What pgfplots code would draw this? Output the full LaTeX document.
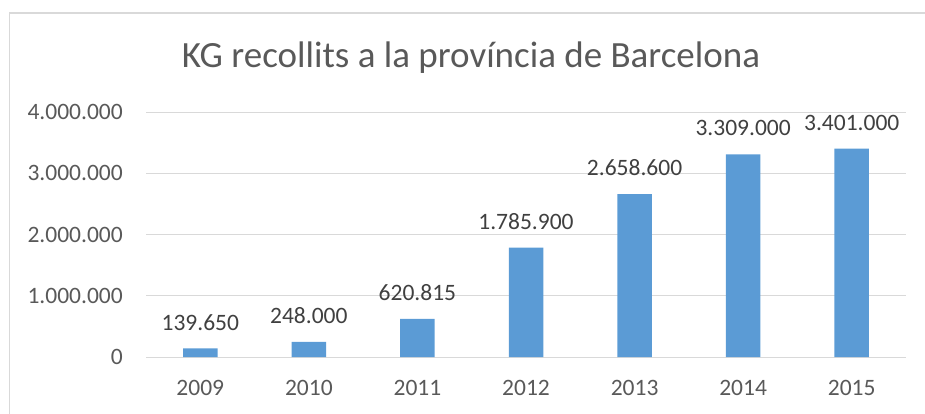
\documentclass[border=0pt]{standalone}
\usepackage{pgfplots}
\pgfplotsset{compat=1.18}
\usepackage{fontspec}
\setmainfont{Carlito}
\definecolor{barblue}{HTML}{5B9BD5}
\definecolor{gridgray}{HTML}{D9D9D9}
\definecolor{textgray}{HTML}{595959}
\definecolor{labelgray}{HTML}{404040}
\begin{document}
\begin{tikzpicture}
\path[use as bounding box, clip] (0,0) rectangle (925pt,-413pt);
\draw[gridgray, line width=1.2pt] (9.5pt,-13pt) rectangle (960pt,-440pt);
\node[anchor=base, text=textgray, inner sep=0pt, font=\fontsize{37}{44}\selectfont] at (471pt,-67pt) {KG recollits a la província de Barcelona};
\begin{axis}[
  at={(146pt,-357pt)}, anchor=south west,
  scale only axis, width=760pt, height=245pt,
  xmin=-0.5, xmax=6.5, ymin=0, ymax=4000000,
  xtick=data,
  xticklabels={2009,2010,2011,2012,2013,2014,2015},
  ytick={0,1000000,2000000,3000000,4000000},
  scaled y ticks=false,
  /pgf/number format/assume math mode=true,
  yticklabel={\pgfmathprintnumber[fixed,precision=0,1000 sep={.}]{\tick}},
  axis line style={draw=none},
  tick style={draw=none},
  major tick length=0pt,
  ymajorgrids,
  grid style={gridgray, line width=1pt},
  ticklabel style={text=textgray, font=\fontsize{23.5}{28}\selectfont, inner sep=0pt},
  yticklabel style={anchor=east, xshift=-23pt},
  xticklabel style={anchor=north, yshift=-23pt},
  ybar, bar width=34.5pt,
  nodes near coords={\pgfmathprintnumber[fixed,precision=0,1000 sep={.},assume math mode=true]{\pgfplotspointmeta}},
  every node near coord/.append style={anchor=south, inner sep=0pt, yshift=18pt, text=labelgray, font=\fontsize{23.5}{28}\selectfont},
  clip=false,
]
\addplot[fill=barblue, draw=none] coordinates {
  (0,139650) (1,248000) (2,620815) (3,1785900) (4,2658600) (5,3309000) (6,3401000)
};
\end{axis}
\end{tikzpicture}
\end{document}
